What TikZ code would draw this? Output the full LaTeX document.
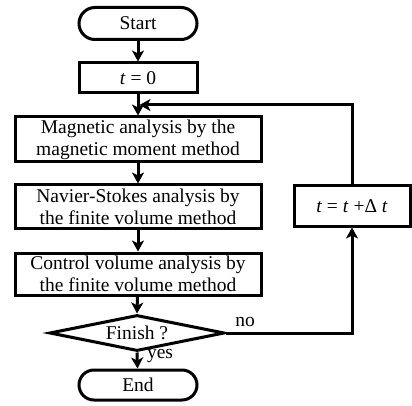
\documentclass[tikz,border=0pt]{standalone}
\usepackage{fontspec}
\setmainfont{Liberation Serif}
\usetikzlibrary{shapes.misc,shapes.geometric,arrows.meta}
\begin{document}
\begin{tikzpicture}[x=1pt,y=-1pt,
  every node/.style={font=\fontsize{19.5}{22}\selectfont, inner sep=0pt, align=center},
  box/.style={draw, line width=3pt, rectangle},
  term/.style={draw, line width=3pt, rounded rectangle, minimum width=118pt, minimum height=32pt},
  dec/.style={draw, line width=3pt, diamond, minimum width=175pt, minimum height=36pt, aspect=4},
  flow/.style={line width=3pt, -{Stealth[length=11pt,width=12pt,inset=3pt]}},
  lbl/.style={font=\fontsize{19.5}{22}\selectfont}]
\useasboundingbox (0,0) rectangle (412,406);
\node[term] (start) at (138,23.5) {Start};
\node[box, minimum width=118pt, minimum height=30pt] (t0) at (138,78) {\textit{t} = 0};
\node[box, minimum width=246pt, minimum height=45pt] (mag) at (138,139.5) {Magnetic analysis by the\\magnetic moment method};
\node[box, minimum width=246pt, minimum height=43pt] (ns) at (138,206.5) {Navier-Stokes analysis by\\the finite volume method};
\node[box, minimum width=246pt, minimum height=42pt] (cv) at (138,274) {Control volume analysis by\\the finite volume method};
\node[dec] (dia) at (137,333) {Finish ?};
\node[term, minimum height=30pt] (end) at (138,385) {End};
\node[box, minimum width=116pt, minimum height=40pt] (dt) at (352,206) {\textit{t} = \textit{t} +Δ \textit{t}};
\coordinate (join) at (139.5,105);
\coordinate (corner) at (352,333);
\draw[flow] (start) -- (t0);
\draw[flow] (t0) -- (mag);
\draw[flow] (mag) -- (ns);
\draw[flow] (ns) -- (cv);
\draw[flow] (cv) -- (dia.north);
\draw[flow] (dia.south) -- (end);
\draw[flow] (dia.east) -- (corner) -- (dt.south);
\draw[flow] (dt.north) |- (join);
\node[lbl] (no) at (245,322) {no};
\node[lbl] (yes) at (160,356) {yes};
\end{tikzpicture}
\end{document}
